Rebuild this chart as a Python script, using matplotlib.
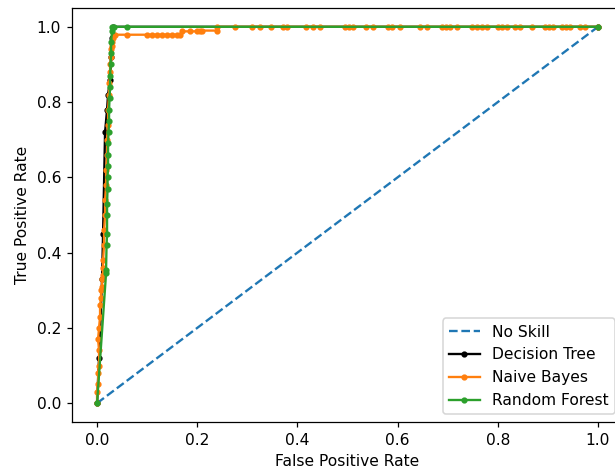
import matplotlib
matplotlib.use("Agg")
import matplotlib.pyplot as plt

# no-skill baseline
ns_fpr = [0, 1]
ns_tpr = [0, 1]

# decision tree roc points
dt_fpr = [0, 0.004, 0.010, 0.012, 0.016, 0.020, 0.022, 0.026, 0.028, 0.030, 0.032, 1.0]
dt_tpr = [0, 0.12, 0.33, 0.45, 0.72, 0.78, 0.82, 0.86, 0.92, 0.97, 1.0, 1.0]

# naive bayes roc points
nb_fpr = [0, 0, 0.002, 0.002, 0.004, 0.004, 0.002, 0.004, 0.006, 0.006, 0.008, 0.008,
          0.010, 0.010, 0.012, 0.012, 0.012, 0.014, 0.014, 0.016, 0.016, 0.018, 0.018,
          0.020, 0.020, 0.022, 0.022, 0.024, 0.024, 0.026, 0.026, 0.028, 0.028, 0.030,
          0.030, 0.032, 0.036, 0.060, 0.100, 0.110, 0.120, 0.130, 0.140, 0.150, 0.160,
          0.166, 0.170, 0.186, 0.200, 0.205, 0.210, 0.240, 0.240, 0.275, 0.310, 0.325,
          0.347, 0.371, 0.379, 0.417, 0.431, 0.445, 0.495, 0.503, 0.511, 0.537, 0.551,
          0.581, 0.589, 0.605, 0.645, 0.659, 0.689, 0.697, 0.705, 0.719, 0.749, 0.758,
          0.768, 0.778, 0.800, 0.808, 0.818, 0.834, 0.844, 0.868, 0.894, 0.902, 0.910,
          0.928, 0.936, 0.944, 0.964, 0.974, 1.0]
nb_tpr = [0, 0.03, 0.05, 0.08, 0.10, 0.14, 0.17, 0.20, 0.23, 0.26, 0.28, 0.30,
          0.31, 0.33, 0.34, 0.36, 0.38, 0.42, 0.46, 0.50, 0.54, 0.58, 0.62,
          0.66, 0.70, 0.74, 0.78, 0.82, 0.85, 0.88, 0.90, 0.92, 0.94, 0.95,
          0.96, 0.97, 0.979, 0.979, 0.979, 0.979, 0.979, 0.979, 0.979, 0.979, 0.979,
          0.979, 0.988, 0.988, 0.988, 0.988, 0.990, 0.990, 1.0, 1.0, 1.0, 1.0,
          1.0, 1.0, 1.0, 1.0, 1.0, 1.0, 1.0, 1.0, 1.0, 1.0, 1.0,
          1.0, 1.0, 1.0, 1.0, 1.0, 1.0, 1.0, 1.0, 1.0, 1.0, 1.0,
          1.0, 1.0, 1.0, 1.0, 1.0, 1.0, 1.0, 1.0, 1.0, 1.0, 1.0,
          1.0, 1.0, 1.0, 1.0, 1.0, 1.0]

# random forest roc points
rf_fpr = [0, 0.018, 0.018, 0.019, 0.020, 0.020, 0.020, 0.021, 0.021, 0.022, 0.022,
          0.022, 0.023, 0.024, 0.024, 0.025, 0.026, 0.026, 0.027, 0.028, 0.028,
          0.030, 0.030, 0.034, 0.060, 1.0]
rf_tpr = [0, 0.345, 0.355, 0.42, 0.45, 0.50, 0.53, 0.57, 0.60, 0.63, 0.66,
          0.69, 0.72, 0.75, 0.78, 0.81, 0.84, 0.87, 0.90, 0.93, 0.96,
          0.99, 1.0, 1.0, 1.0, 1.0]

dpi = 112
fig = plt.figure(figsize=(615 / dpi, 470 / dpi), dpi=dpi)
ax = fig.add_axes([72 / 615, 48 / 470, 551 / 615, 414 / 470])

ax.plot(ns_fpr, ns_tpr, linestyle='--', label='No Skill')
ax.plot(dt_fpr, dt_tpr, marker='.', color='black', label='Decision Tree')
ax.plot(nb_fpr, nb_tpr, marker='.', color='C1', label='Naive Bayes')
ax.plot(rf_fpr, rf_tpr, marker='.', color='C2', label='Random Forest')

ax.set_xlabel('False Positive Rate')
ax.set_ylabel('True Positive Rate')
ax.legend(loc='lower right')

fig.savefig('out.png', dpi=dpi)
